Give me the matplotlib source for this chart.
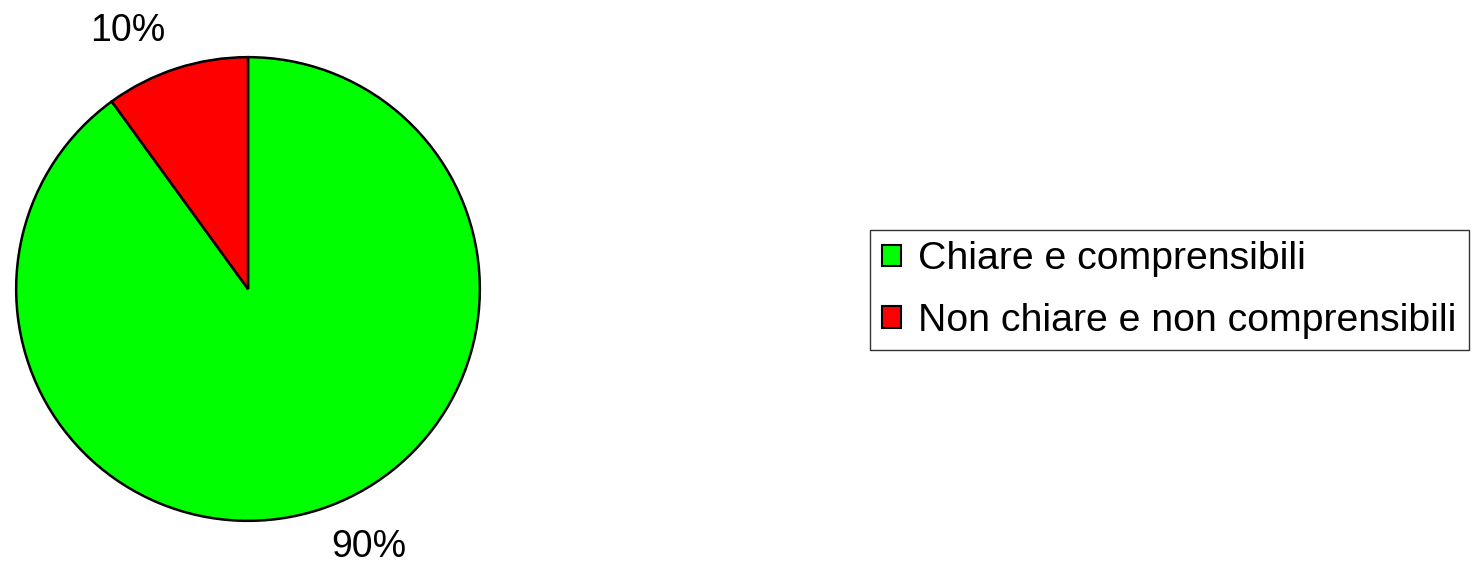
import numpy as np
import matplotlib.pyplot as plt
from matplotlib.patches import Patch

plt.rcParams["font.family"] = ["Liberation Sans", "DejaVu Sans"]

categorie = ["Chiare e comprensibili", "Non chiare e non comprensibili"]
valori = [90, 10]
etichette = ["90%", "10%"]
colori = ["#00ff00", "#ff0000"]

fig = plt.figure(figsize=(14.77, 5.68), dpi=100)
ax = fig.add_axes([15 / 1477, 46 / 568, 466 / 1477, 466 / 568])

wedges, _ = ax.pie(valori, colors=colori, startangle=90, counterclock=False,
                   radius=1.0, wedgeprops=dict(edgecolor="black", linewidth=1.8))
ax.set_xlim(-1.005, 1.005); ax.set_ylim(-1.005, 1.005)
ax.set_aspect("equal")
ax.set_axis_off()

# etichette percentuali fuori dalla torta (stile Excel)
for w, txt in zip(wedges, etichette):
    ang = np.deg2rad((w.theta1 + w.theta2) / 2 + 7)
    ax.text(1.23 * np.cos(ang), 1.23 * np.sin(ang), txt, ha="center", va="center",
            fontsize=27, clip_on=False)

handles = [Patch(facecolor=c, edgecolor="black", linewidth=1.5) for c in colori]
leg = fig.legend(handles, categorie, loc="center left", bbox_to_anchor=(870 / 1477, 1 - 290 / 568),
                 fontsize=28.3, frameon=True, fancybox=False, handlelength=0.48, handleheight=0.48,
                 handletextpad=0.45, borderpad=0.3, labelspacing=0.64, borderaxespad=0)
leg.get_frame().set_edgecolor("black")
leg.get_frame().set_linewidth(1.0)

fig.savefig("out.png", dpi=100)
